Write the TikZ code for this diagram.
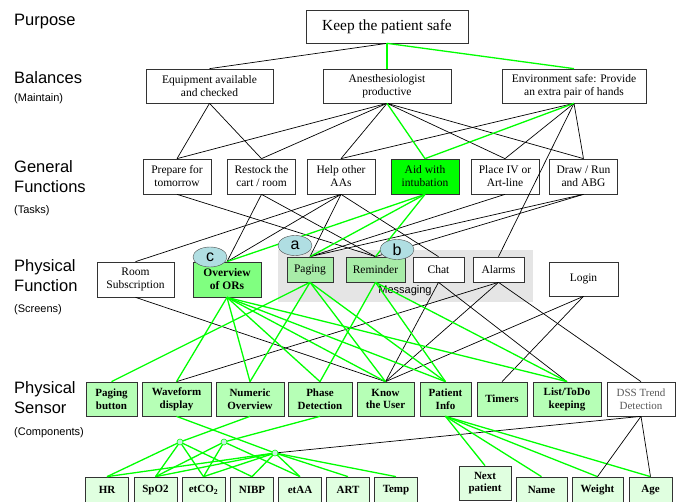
\documentclass[tikz,border=0pt]{standalone}
\usepackage{fontspec}
\setmainfont{Liberation Serif}
\setsansfont{Liberation Sans}
\usetikzlibrary{positioning, shapes.geometric}

\definecolor{vivid}{RGB}{0,255,0}
\definecolor{ovfill}{RGB}{128,255,128}
\definecolor{msgfill}{RGB}{168,236,168}
\definecolor{sensfill}{RGB}{182,255,182}
\definecolor{compfill}{RGB}{224,255,224}
\definecolor{tagfill}{RGB}{176,222,226}
\definecolor{dotfill}{RGB}{200,240,225}

\begin{document}
\begin{tikzpicture}[x=1pt, y=-1pt,
    box/.style={
        rectangle,
        draw=black!80,
        fill=white,
        align=center,
        font=\fontsize{11.5}{13}\selectfont,
        inner sep=0pt,
        line width=0.7pt,
        minimum width=68pt,
        minimum height=35pt,
    },
    box_aid/.style={box, fill=vivid},
    box_ov/.style={box, fill=ovfill, font=\bfseries\fontsize{11.5}{13}\selectfont},
    box_msg/.style={box, minimum height=25pt}, % pantallas de mensajes
    box_sens/.style={box, fill=sensfill, font=\bfseries\fontsize{11}{12.8}\selectfont, minimum height=34pt},
    box_comp/.style={box, fill=compfill, font=\bfseries\fontsize{11}{12.5}\selectfont, minimum width=43pt, minimum height=26pt},
    lvl/.style={anchor=west, align=left, inner sep=0pt, font=\sffamily\fontsize{16.5}{20}\selectfont},
    lvl_sub/.style={anchor=west, inner sep=0pt, font=\sffamily\fontsize{11}{12}\selectfont},
    tag/.style={ellipse, draw=black!70, fill=tagfill, minimum width=34pt, minimum height=20pt, inner sep=0pt, font=\sffamily\fontsize{16}{16}\selectfont},
    hub/.style={circle, draw=vivid, fill=dotfill, minimum size=6pt, inner sep=0pt, line width=0.6pt},
    lk/.style={draw=black, line width=0.7pt},
    lkg/.style={draw=vivid, line width=1.3pt}
]
\useasboundingbox (0,0) rectangle (678,502);

% Niveles
\node[lvl] at (14,22) {Purpose};
\node[lvl] at (14,78) {Balances};
\node[lvl_sub] at (14,99) {(Maintain)};
\node[lvl] at (14,177) {General\\Functions};
\node[lvl_sub] at (14,211) {(Tasks)};
\node[lvl] at (14,276) {Physical\\Function};
\node[lvl_sub] at (14,310) {(Screens)};
\node[lvl] at (14,398) {Physical\\Sensor};
\node[lvl_sub] at (14,433) {(Components)};

% Grupo de mensajes
\fill[black!10] (278,250) rectangle (533,302);
\node[font=\sffamily\fontsize{11}{12}\selectfont] (msg) at (405,291) {Messaging};

% Nodos
\node[box, minimum width=162pt, minimum height=33pt, font=\fontsize{15.4}{17}\selectfont] (keep) at (387,26.5) {Keep the patient safe};

\node[box, minimum width=127pt, minimum height=34pt] (equip) at (209.5,86) {Equipment available\\and checked};
\node[box, minimum width=128pt, minimum height=34pt] (anest) at (387,86) {Anesthesiologist\\productive};
\node[box, minimum width=144pt, minimum height=34pt] (env) at (574,86) {Environment safe: Provide\\an extra pair of hands};

\node[box] (prep) at (177,176.5) {Prepare for\\tomorrow};
\node[box] (restock) at (261.5,176.5) {Restock the\\cart / room};
\node[box] (help) at (341,176.5) {Help other\\AAs};
\node[box_aid] (aid) at (425,176.5) {Aid with\\intubation};
\node[box] (placeiv) at (505,176.5) {Place IV or\\Art-line};
\node[box] (drawabg) at (583.5,176.5) {Draw / Run\\and ABG};

\node[box, minimum width=77pt] (room) at (135.5,279.5) {Room\\Subscription};
\node[box_ov] (overview) at (227,279.5) {Overview\\of ORs};
\node[box_msg, fill=msgfill, minimum width=46pt] (paging) at (310,269.5) {Paging};
\node[box_msg, fill=msgfill, minimum width=59pt] (reminder) at (375.5,269.5) {Reminder};
\node[box_msg, minimum width=51pt] (chat) at (438.5,269.5) {Chat};
\node[box_msg, minimum width=51pt] (alarms) at (498.5,269.5) {Alarms};
\node[box, minimum width=69pt, minimum height=34pt] (login) at (583.5,279) {Login};

\node[box_sens, minimum width=51pt] (pagebtn) at (111.5,399) {Paging\\button};
\node[box_sens, minimum width=69pt] (wave) at (176.5,399) {Waveform\\display};
\node[box_sens] (numeric) at (250,399) {Numeric\\Overview};
\node[box_sens, minimum width=64pt] (phase) at (320,399) {Phase\\Detection};
\node[box_sens, minimum width=57pt] (knowuser) at (385.5,399) {Know\\the User};
\node[box_sens, minimum width=51pt] (patinfo) at (445.5,399) {Patient\\Info};
\node[box_sens, minimum width=50pt] (timers) at (502,399) {Timers};
\node[box_sens] (todo) at (567,399) {List/ToDo\\keeping};
\node[box, minimum height=34pt, text=black!65, font=\fontsize{11}{12.8}\selectfont] (dss) at (641,399) {DSS Trend\\Detection};

\node[box_comp] (hr) at (107,490) {HR};
\node[box_comp] (spo) at (155.5,490) {SpO2};
\node[box_comp] (etco) at (203.5,490) {etCO\textsubscript{2}};
\node[box_comp] (nibp) at (252,490) {NIBP};
\node[box_comp] (etaa) at (300,490) {etAA};
\node[box_comp] (art) at (348,490) {ART};
\node[box_comp] (temp) at (396,490) {Temp};
\node[box_comp, minimum width=52pt, minimum height=34pt] (nextpat) at (485,483) {Next\\patient};
\node[box_comp, minimum width=51pt] (name) at (541.5,490) {Name};
\node[box_comp, minimum width=51pt] (weight) at (597.5,490) {Weight};
\node[box_comp] (age) at (650.5,490) {Age};

% Puntos de union
\coordinate (dotA) at (180,442);
\coordinate (dotB) at (224,442);
\coordinate (dotC) at (275,453);

% Proposito -> balances
\draw[lk] (keep.south) -- (equip.north);
\draw[lkg] (keep.south) -- (anest.north);
\draw[lkg] (keep.south) -- (env.north);

% Balances -> funciones generales
\draw[lk] (equip.south) -- (prep.north);
\draw[lk] (equip.south) -- (restock.north);
\draw[lk] (anest.south) -- (prep.north);
\draw[lk] (anest.south) -- (restock.north);
\draw[lk] (anest.south) -- (help.north);
\draw[lk] (anest.south) -- (placeiv.north);
\draw[lk] (anest.south) -- (drawabg.north);
\draw[lk] (env.south) -- (help.north);
\draw[lk] (env.south) -- (placeiv.north);
\draw[lk] (env.south) -- (drawabg.north);
\draw[lk] (env.south) -- (alarms.north);
\draw[lkg] (anest.south) -- (aid.north);
\draw[lkg] (env.south) -- (aid.north);

% Funciones generales -> pantallas
\draw[lk] (prep.south) -- (reminder.north);
\draw[lk] (restock.south) -- (overview.north);
\draw[lk] (restock.south) -- (reminder.north);
\draw[lk] (help.south) -- (room.north);
\draw[lk] (help.south) -- (overview.north);
\draw[lk] (help.south) -- (paging.north);
\draw[lk] (help.south) -- (chat.north);
\draw[lk] (placeiv.south) -- (paging.north);
\draw[lk] (drawabg.south) -- (paging.north);
\draw[lk] (drawabg.south) -- (reminder.north);
\draw[lkg] (aid.south) -- (overview.north);
\draw[lkg] (aid.south) -- (paging.north);
\draw[lkg] (aid.south) -- (reminder.north);

% Pantallas -> sensores
\draw[lk] (room.south) -- (knowuser.north);
\draw[lk] (chat.south) -- (knowuser.north);
\draw[lk] (chat.south) -- (todo.north);
\draw[lk] (alarms.south) -- (wave.north);
\draw[lk] (alarms.south) -- (knowuser.north);
\draw[lk] (alarms.south) -- (dss.north);
\draw[lk] (login.south) -- (knowuser.north);
\draw[lk] (login.south) -- (timers.north);
\draw[lkg] (overview.south) -- (wave.north);
\draw[lkg] (overview.south) -- (numeric.north);
\draw[lkg] (overview.south) -- (phase.north);
\draw[lkg] (overview.south) -- (knowuser.north);
\draw[lkg] (overview.south) -- (patinfo.north);
\draw[lkg] (overview.south) -- (todo.north);
\draw[lkg] (paging.south) -- (pagebtn.north);
\draw[lkg] (paging.south) -- (numeric.north);
\draw[lkg] (paging.south) -- (knowuser.north);
\draw[lkg] (paging.south) -- (patinfo.north);
\draw[lkg] (reminder.south) -- (phase.north);
\draw[lkg] (reminder.south) -- (patinfo.north);
\draw[lkg] (reminder.south) -- (todo.north);

% Sensores -> componentes
\draw[lkg] (numeric.south) -- (dotA);
\draw[lkg] (phase.south) -- (dotB);
\draw[lkg] (wave.south) -- (dotC);
\draw[lk] (dss.south) -- (dotC);
\draw[lkg] (dotA) -- (hr.north);
\draw[lkg] (dotA) -- (spo.north);
\draw[lkg] (dotA) -- (etco.north);
\draw[lkg] (dotA) -- (nibp.north);
\draw[lkg] (dotB) -- (spo.north);
\draw[lkg] (dotB) -- (etco.north);
\draw[lkg] (dotB) -- (etaa.north);
\draw[lkg] (dotC) -- (hr.north);
\draw[lkg] (dotC) -- (spo.north);
\draw[lkg] (dotC) -- (etco.north);
\draw[lkg] (dotC) -- (nibp.north);
\draw[lkg] (dotC) -- (etaa.north);
\draw[lkg] (dotC) -- (art.north);
\draw[lkg] (dotC) -- (temp.north);
\draw[lkg] (patinfo.south) -- (nextpat.north);
\draw[lkg] (patinfo.south) -- (name.north);
\draw[lkg] (patinfo.south) -- (weight.north);
\draw[lkg] (patinfo.south) -- (age.north);
\draw[lk] (dss.south) -- (weight.north);
\draw[lk] (dss.south) -- (age.north);

\node[hub] at (dotA) {};
\node[hub] at (dotB) {};
\node[hub] at (dotC) {};

% Marcas
\node[tag] (tagc) at (210,257) {c};
\node[tag] (taga) at (295,245.5) {a};
\node[tag] (tagb) at (397,249.5) {b};

\end{tikzpicture}
\end{document}
